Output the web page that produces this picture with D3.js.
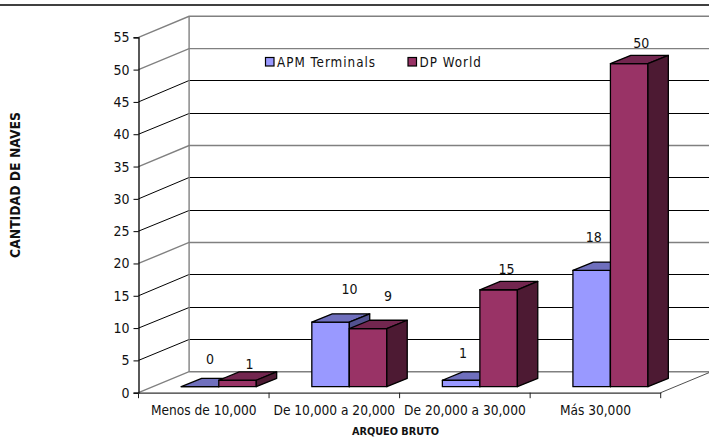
<!DOCTYPE html>
<html>
<head>
<meta charset="utf-8">
<script src="https://cdn.jsdelivr.net/npm/d3@7"></script>
<style>
html, body { margin: 0; padding: 0; background: #fff; }
svg { display: block; }
text { font-family: "DejaVu Sans Condensed", "DejaVu Sans", sans-serif; font-stretch: condensed; fill: #111; }
</style>
</head>
<body>
<svg id="chart" width="709" height="438"></svg>
<script>
var categories = ["Menos de 10,000", "De 10,000 a 20,000", "De 20,000 a 30,000", "Más 30,000"];
var seriesNames = ["APM Terminals", "DP World"];
var apmValues = [0, 10, 1, 18];
var dpValues = [1, 9, 15, 50];
var yTicks = [0, 5, 10, 15, 20, 25, 30, 35, 40, 45, 50, 55];

// the original was scaled down, so some gridlines came out grey and blurry
var softLines = [0, 20, 35, 50, 55];

// hand placed labels in the original: shift from the middle of the bar top
var apmLabelShift = [[10, -23], [19, -28], [2, -22], [2, -28]];
var dpLabelShift = [[12, -11], [20, -28], [8, -16], [12, -16]];

var colors = {
    "APM Terminals": { front: "#9999ff", top: "#6f6fbd", side: "#52528f" },
    "DP World": { front: "#993366", top: "#72264f", side: "#4d1a33" }
};

var svg = d3.select("#chart");

var plotLeft = 138.5, plotRight = 660.7, plotBottom = 392.7, plotTop = 37.3;
var wallDx = 50.6, wallDy = -21;      // depth of the 3d box
var barDx = 20.4, barDy = -8.3;       // depth of one bar
var floorDx = 15, floorDy = -6;       // how far the bars sit back from the front edge
var barW = 37.5;

var x = d3.scaleBand().domain(categories).range([plotLeft, plotRight]);
var xInner = d3.scaleBand().domain(seriesNames).range([-barW, barW]);
var y = d3.scaleLinear().domain([0, 55]).range([plotBottom, plotTop]);

var grey = "#808080";

function isSoft(v) { return softLines.indexOf(v) >= 0; }

// page rule at the top
svg.append("line")
    .attr("x1", 0).attr("x2", 709).attr("y1", 5).attr("y2", 5)
    .attr("stroke", "#000").attr("stroke-width", 1.3);

// gridlines: across the left wall, then along the back wall
svg.append("g").selectAll("path")
    .data(yTicks)
    .join("path")
    .attr("fill", "none")
    .attr("stroke", function (d) { return isSoft(d) ? grey : "#000"; })
    .attr("stroke-width", function (d) { return isSoft(d) ? 1.4 : 1; })
    .attr("d", function (d) {
        var backY = y(d) + wallDy;
        if (!isSoft(d)) backY = Math.floor(backY) + 0.5;
        var p = d3.path();
        p.moveTo(plotLeft, y(d));
        p.lineTo(plotLeft + wallDx, backY);
        p.lineTo(709, backY);
        return p.toString();
    });

// corner of the two walls
svg.append("line")
    .attr("x1", plotLeft + wallDx).attr("x2", plotLeft + wallDx)
    .attr("y1", y(55) + wallDy).attr("y2", y(0) + wallDy)
    .attr("stroke", grey).attr("stroke-width", 1.4);

// right edge of the floor
svg.append("line")
    .attr("x1", plotRight).attr("x2", plotRight + wallDx)
    .attr("y1", y(0)).attr("y2", y(0) + wallDy)
    .attr("stroke", "#222").attr("stroke-width", 0.8);

// bars
var bars = [];
categories.forEach(function (c, i) {
    bars.push({ cat: c, name: seriesNames[0], value: apmValues[i], shift: apmLabelShift[i] });
    bars.push({ cat: c, name: seriesNames[1], value: dpValues[i], shift: dpLabelShift[i] });
});

function poly(pts) { return d3.line()(pts) + "Z"; }

var barG = svg.append("g").selectAll("g")
    .data(bars)
    .join("g")
    .attr("stroke", "#000")
    .attr("stroke-width", 1.3)
    .attr("stroke-linejoin", "round");

function corners(d) {
    var x0 = x(d.cat) + x.bandwidth() / 2 + xInner(d.name) + floorDx;
    return {
        x0: x0,
        x1: x0 + xInner.bandwidth(),
        yb: y(0) + floorDy,
        yt: y(d.value) + floorDy
    };
}

barG.append("path")
    .attr("fill", function (d) { return colors[d.name].front; })
    .attr("d", function (d) {
        var c = corners(d);
        return poly([[c.x0, c.yb], [c.x1, c.yb], [c.x1, c.yt], [c.x0, c.yt]]);
    });

barG.append("path")
    .attr("fill", function (d) { return colors[d.name].top; })
    .attr("d", function (d) {
        var c = corners(d);
        return poly([[c.x0, c.yt], [c.x1, c.yt], [c.x1 + barDx, c.yt + barDy], [c.x0 + barDx, c.yt + barDy]]);
    });

barG.append("path")
    .attr("fill", function (d) { return colors[d.name].side; })
    .attr("d", function (d) {
        var c = corners(d);
        return poly([[c.x1, c.yb], [c.x1 + barDx, c.yb + barDy], [c.x1 + barDx, c.yt + barDy], [c.x1, c.yt]]);
    });

// data labels
svg.append("g").selectAll("text")
    .data(bars)
    .join("text")
    .attr("text-anchor", "middle")
    .attr("font-size", 14)
    .attr("x", function (d) {
        var c = corners(d);
        return (c.x0 + c.x1) / 2 + d.shift[0];
    })
    .attr("y", function (d) { return corners(d).yt + d.shift[1]; })
    .text(function (d) { return d.value; });

// y axis
var yAxis = svg.append("g")
    .attr("transform", "translate(" + plotLeft + ",0)")
    .call(d3.axisLeft(y).tickValues(yTicks).tickSize(5).tickPadding(4));
yAxis.selectAll("text").attr("font-size", 14).attr("font-family", null);
yAxis.select(".domain").attr("stroke", "#000").attr("stroke-width", 1.3);
yAxis.selectAll("line").attr("stroke", "#000");

// x axis, ticks sit between the categories
var xAxis = svg.append("g")
    .attr("transform", "translate(0," + plotBottom + ")")
    .call(d3.axisBottom(x).tickSize(0).tickPadding(13));
xAxis.selectAll("text").attr("font-size", 13.6).attr("font-family", null);
xAxis.select(".domain").attr("stroke", "#333").attr("stroke-width", 1.3);

xAxis.append("g").selectAll("line")
    .data(categories.concat(["end"]))
    .join("line")
    .attr("x1", function (d, i) { return plotLeft + i * x.step(); })
    .attr("x2", function (d, i) { return plotLeft + i * x.step(); })
    .attr("y1", 0).attr("y2", 5.5)
    .attr("stroke", "#222");

// axis titles
svg.append("text")
    .attr("text-anchor", "middle")
    .attr("font-size", 13.8)
    .attr("font-weight", "bold")
    .attr("transform", "translate(19.5,185) rotate(-90)")
    .text("CANTIDAD DE NAVES");

svg.append("text")
    .attr("x", 395.5).attr("y", 435)
    .attr("text-anchor", "middle")
    .attr("font-size", 10.8)
    .attr("font-weight", "bold")
    .text("ARQUEO BRUTO");

// legend
var legendX = d3.scaleOrdinal().domain(seriesNames).range([265.5, 408]);
var legend = svg.append("g").selectAll("g")
    .data(seriesNames)
    .join("g")
    .attr("transform", function (d) { return "translate(" + legendX(d) + ",57.5)"; });

legend.append("rect")
    .attr("width", 8.5).attr("height", 8.5)
    .attr("fill", function (d) { return colors[d].front; })
    .attr("stroke", "#000").attr("stroke-width", 1.2);

legend.append("text")
    .attr("x", 11.5).attr("y", 9)
    .attr("font-size", 13.3)
    .attr("letter-spacing", 1)
    .text(function (d) { return d; });
</script>
</body>
</html>
